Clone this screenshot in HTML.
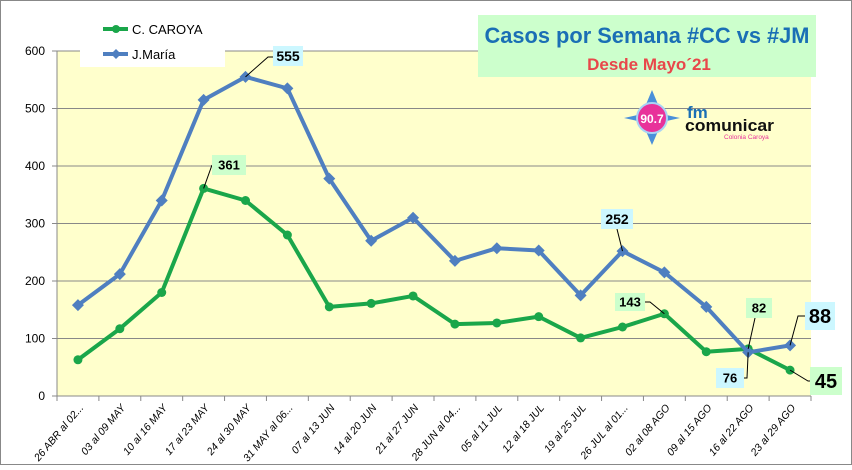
<!DOCTYPE html>
<html><head><meta charset="utf-8"><style>
body{margin:0;background:#fff;width:852px;height:465px;overflow:hidden;font-family:"Liberation Sans",Arial,sans-serif}
svg text{font-family:"Liberation Sans",Arial,sans-serif}
</style></head><body>
<svg id="chart" width="852" height="465">
<rect x="0.5" y="0.5" width="851" height="464" fill="#fff" stroke="#888"/>
<rect id="plot" x="57" y="51" width="754" height="345" fill="#ffffcc"/>
</svg>
<script>
const categories=["26 ABR al 02...","03 al 09 MAY","10 al 16 MAY","17 al 23 MAY","24 al 30 MAY","31 MAY al 06...","07 al 13 JUN","14 al 20 JUN","21 al 27 JUN","28 JUN al 04...","05 al 11 JUL","12 al 18 JUL","19 al 25 JUL","26 JUL al 01...","02 al 08 AGO","09 al 15 AGO","16 al 22 AGO","23 al 29 AGO"];
const ccValues=[63,117,180,361,340,280,155,161,174,125,127,138,101,120,143,77,82,45];
const jmValues=[158,212,340,515,555,535,378,270,310,235,257,253,175,252,215,155,76,88];
const yTicks=[0,100,200,300,400,500,600];
const NS="http://www.w3.org/2000/svg";
const svg=document.getElementById('chart');
const L=57,R=811,T=51,B=396,YMAX=600;
const bw=(R-L)/categories.length;
const xs=i=>L+bw*(i+0.5);
const ys=v=>B-(v/YMAX)*(B-T);
function el(tag,attrs,parent){const e=document.createElementNS(NS,tag);for(const k in attrs)e.setAttribute(k,attrs[k]);(parent||svg).appendChild(e);return e;}
yTicks.forEach(v=>{
 const g=el('line',{x1:L-5,x2:R,y1:ys(v),y2:ys(v),stroke:'#888','stroke-width':1});
 
 
 const t=el('text',{x:L-12,y:ys(v)+4,'text-anchor':'end','font-size':12,fill:'#000'});
 t.textContent=v;
 
 
});
el('line',{x1:L,x2:L,y1:T,y2:B,stroke:'#888'});
categories.forEach((c,i)=>{
 const x=L+bw*(i+1);
 el('line',{x1:x,x2:x,y1:B,y2:B+5,stroke:'#888'});
 const t=el('text',{x:0,y:0,'text-anchor':'end','font-size':10.5,'font-style':'italic',fill:'#000',transform:`translate(${xs(i)+6},${B+12}) rotate(-50)`});
 t.textContent=c;
 
 
});
el('line',{x1:L,x2:L,y1:B,y2:B+5,stroke:'#888'});
const tb=el('rect',{x:478,y:15,width:338,height:62,fill:'#ccffcc'});


const t1=el('text',{x:647,y:43,'text-anchor':'middle','font-size':22,'font-weight':'bold',fill:'#1a6fb5','textLength':325,'lengthAdjust':'spacingAndGlyphs'});
t1.textContent='Casos por Semana #CC vs #JM';


const t2=el('text',{x:649,y:70,'text-anchor':'middle','font-size':17,'font-weight':'bold',fill:'#e8474a'});
t2.textContent='Desde Mayo´21';


const lg=el('g',{});


el('polygon',{points:'652,90 662,114 680,118 662,122 652,145 642,122 624,118 642,114',fill:'#4a90d9'},lg);
el('circle',{cx:652,cy:118,r:15,fill:'#e8329a',stroke:'#aad4f5','stroke-width':2},lg);
let lt=el('text',{x:652,y:123,'text-anchor':'middle','font-size':12,'font-weight':'bold',fill:'#fff'},lg);lt.textContent='90.7';
lt=el('text',{x:687,y:118,'font-size':17,'font-weight':'bold',fill:'#1a6fb5'},lg);lt.textContent='fm';
lt=el('text',{x:685,y:131,'font-size':17,'font-weight':'bold',fill:'#111','textLength':89,'lengthAdjust':'spacingAndGlyphs'},lg);lt.textContent='comunicar';
lt=el('text',{x:724,y:139,'font-size':6.5,fill:'#e8329a'},lg);lt.textContent='Colonia Caroya';
const lb=el('rect',{x:80,y:15,width:145,height:52,fill:'#fff'});


function legendEntry(y,color,name,diamond){
 el('line',{x1:103,x2:128,y1:y,y2:y,stroke:color,'stroke-width':4});
 if(diamond)el('polygon',{points:`116,${y-5} 121,${y} 116,${y+5} 111,${y}`,fill:color});
 else el('circle',{cx:116,cy:y,r:4,fill:color});
 const t=el('text',{x:132,y:y+5,'font-size':13,fill:'#000'});t.textContent=name;
 
 
}
legendEntry(29,'#1aa64a','C. CAROYA',false);
legendEntry(54,'#4f7fc0','J.María',true);
function series(vals,color,diamond,name){
 const p=el('polyline',{points:vals.map((v,i)=>xs(i)+','+ys(v)).join(' '),fill:'none',stroke:color,'stroke-width':4,'stroke-linejoin':'round'});
 
 
 vals.forEach((v,i)=>{
  const x=xs(i),y=ys(v);
  const m=diamond?el('polygon',{points:`${x},${y-6} ${x+6},${y} ${x},${y+6} ${x-6},${y}`,fill:color}):el('circle',{cx:x,cy:y,r:4.5,fill:color});
  
  
 });
}
series(ccValues,'#1aa64a',false,'caroya');
series(jmValues,'#4f7fc0',true,'jmaria');
function label(vals,i,bx,by,w,h,fs,bg,leader){
 el('polyline',{points:xs(i)+','+ys(vals[i])+' '+leader,fill:'none',stroke:'#000','stroke-width':1});
 el('rect',{x:bx,y:by,width:w,height:h,fill:bg});
 const t=el('text',{x:bx+w/2,y:by+h/2+fs*0.36,'text-anchor':'middle','font-size':fs,'font-weight':'bold',fill:'#000'});
 t.textContent=vals[i];
 
 
}
label(jmValues,4,273,46,30,20,14,'#ccf7ff','268,57 273,57');
label(ccValues,3,212,155,34,20,13,'#ccffcc','212,165');
label(jmValues,13,601,209,32,20,14,'#ccf7ff','617,229');
label(ccValues,14,615,293,30,18,13,'#ccffcc','650,302 645,302');
label(ccValues,16,746,298,26,20,13,'#ccffcc','755,318');
label(jmValues,16,716,368,28,20,13,'#ccf7ff','747,378 744,378');
label(jmValues,17,805,302,30,28,20,'#ccf7ff','798,316 805,316');
label(ccValues,17,810,367,32,28,20,'#ccffcc','808,381 810,381');
</script>
</body></html>
